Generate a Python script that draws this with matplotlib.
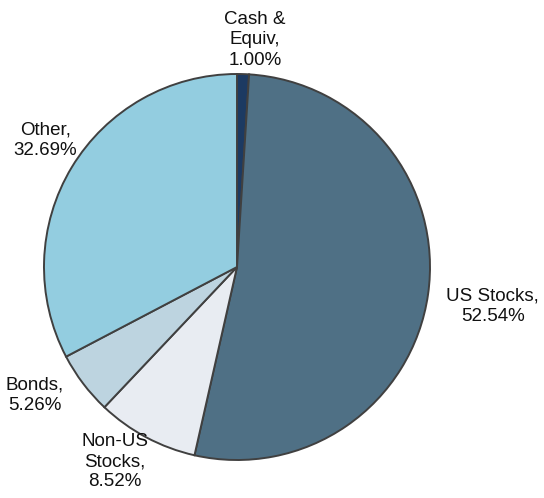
import numpy as np
import matplotlib.pyplot as plt

plt.rcParams['font.family'] = ['Liberation Sans', 'DejaVu Sans']

# Datos del gráfico
categorias = ["Cash &\nEquiv", "US Stocks", "Non-US\nStocks", "Bonds", "Other"]
valores = [1.00, 52.54, 8.52, 5.26, 32.69]
colores = ["#1c3a62", "#4f7085", "#e8ecf2", "#bdd4e0", "#93cde0"]
distancias = [1.18, 1.34, 1.19, 1.24, 1.19]  # distancia de cada etiqueta
desvio = [-2.7, -0.5, -4.0, -4.7, -2.3]      # giro de cada etiqueta (grados)

fig = plt.figure(figsize=(5.44, 4.98), dpi=100)
# centro (237, 267) px, radio 193 px
r = 193
ax = fig.add_axes([(237 - r) / 544, (498 - 267 - r) / 498, 2 * r / 544, 2 * r / 498])

wedges, _ = ax.pie(valores, colors=colores, startangle=90, counterclock=False,
                   radius=1, wedgeprops=dict(edgecolor="#404040", linewidth=1.4))

for w, cat, v, d, g in zip(wedges, categorias, valores, distancias, desvio):
    ang = np.deg2rad((w.theta1 + w.theta2) / 2 + g)
    ax.text(d * np.cos(ang), d * np.sin(ang), f"{cat},\n{v:.2f}%",
            ha="center", va="center", fontsize=13.5, color="#111111",
            linespacing=1.25)

ax.set_xlim(-1, 1)
ax.set_ylim(-1, 1)
ax.set_aspect("equal")
ax.axis("off")

fig.savefig("out.png", dpi=100)
